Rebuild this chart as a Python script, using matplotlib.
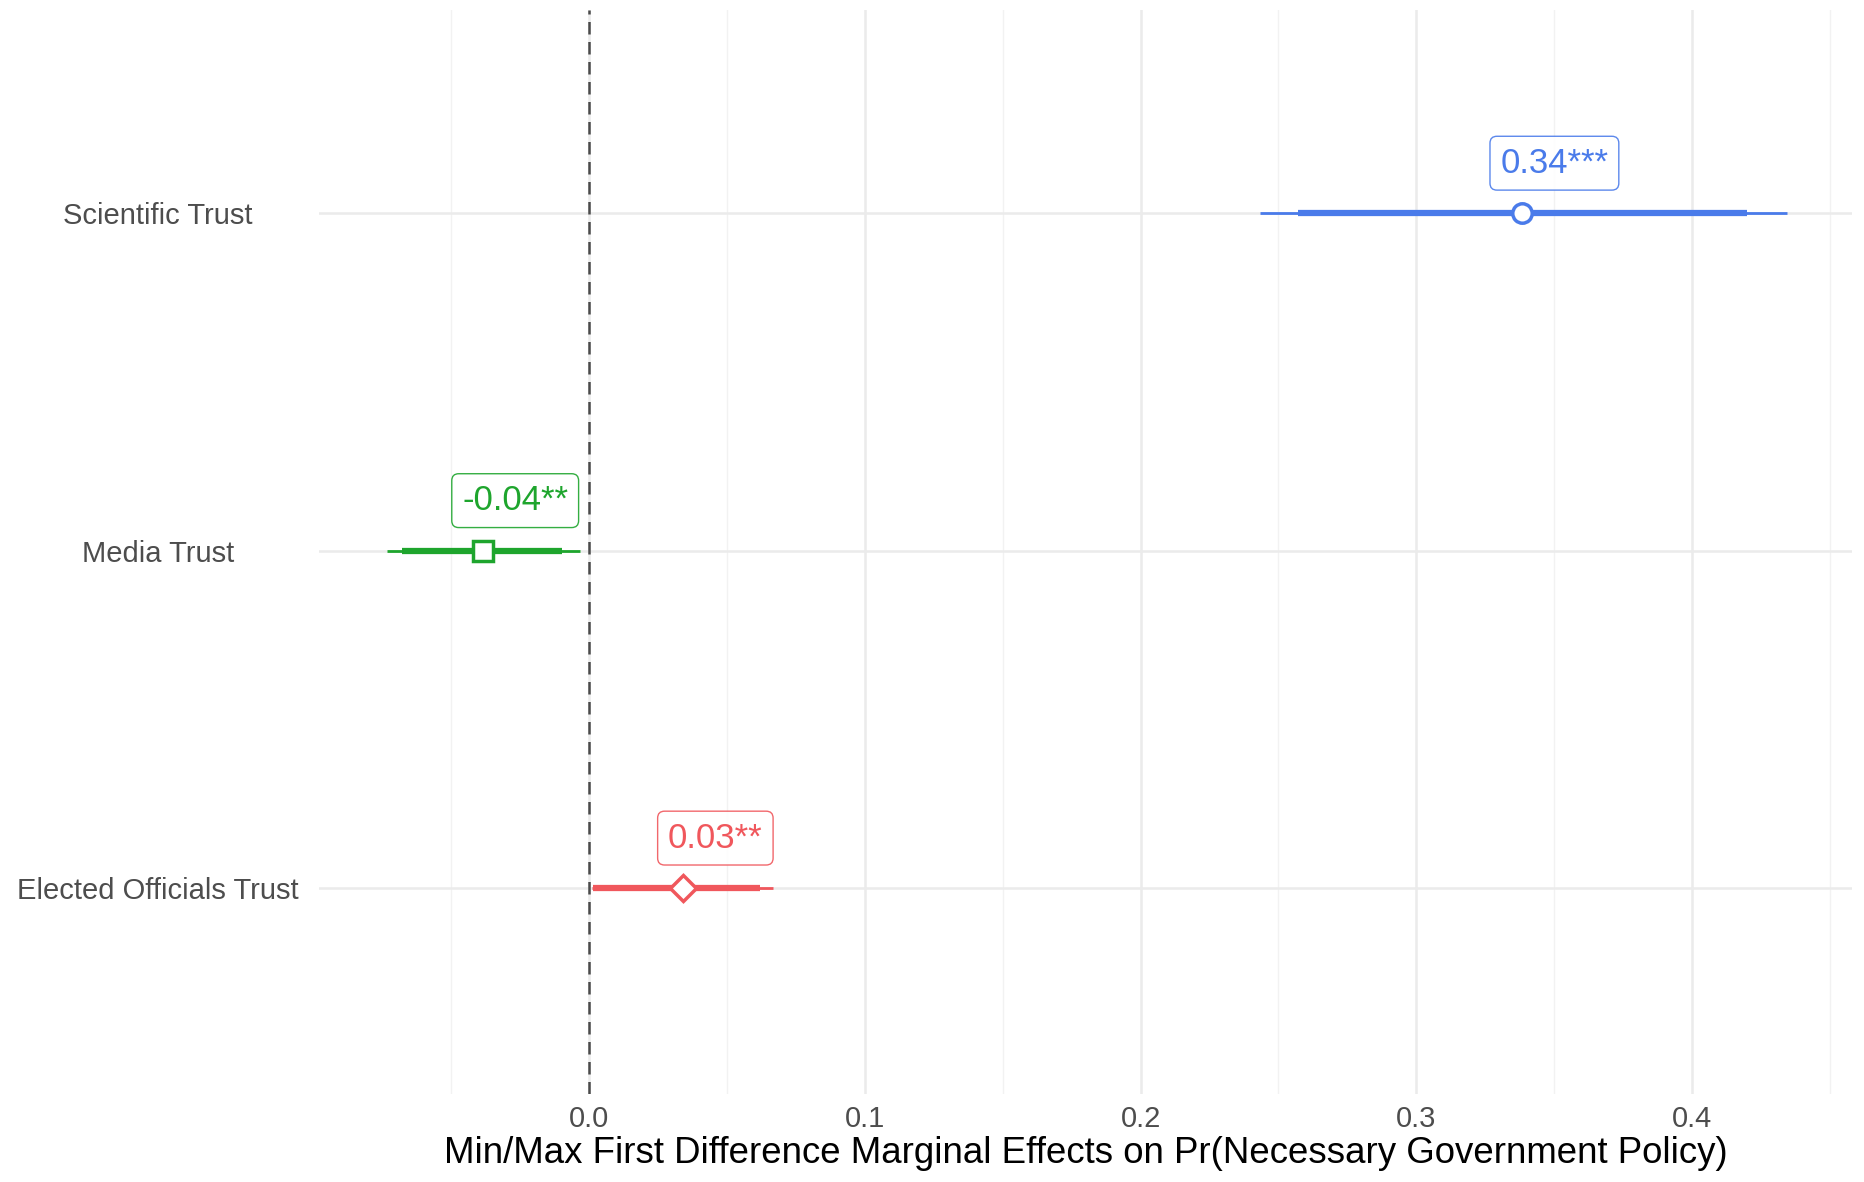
import matplotlib.pyplot as plt

plt.rcParams['font.family'] = ['Liberation Sans', 'DejaVu Sans']

# 추정치와 신뢰구간
terms = ['Elected Officials Trust', 'Media Trust', 'Scientific Trust']
estimate = [0.0342, -0.0384, 0.3385]
ci95_low = [0.0010, -0.0734, 0.2433]
ci95_high = [0.0668, -0.0033, 0.4345]
ci90_low = [0.0015, -0.0680, 0.2571]
ci90_high = [0.0620, -0.0099, 0.4199]
labels = ['0.03**', '-0.04**', '0.34***']
colors = ['#f0575c', '#1ea52d', '#4a7bea']
markers = ['D', 's', 'o']
xticks = [0.0, 0.1, 0.2, 0.3, 0.4]

fig = plt.figure(figsize=(18.65, 11.82), dpi=100)
ax = fig.add_axes([0.171, 0.0745, 0.822, 0.917])

ypos = list(range(1, len(terms) + 1))

# 그리드
ax.set_xticks(xticks)
ax.set_xticks([-0.05, 0.05, 0.15, 0.25, 0.35, 0.45], minor=True)
ax.grid(True, which='major', axis='both', color='#ebebeb', lw=1.8)
ax.grid(True, which='minor', axis='x', color='#f2f2f2', lw=1.0)
for s in ax.spines.values():
    s.set_visible(False)

ax.axvline(0, color='#4a4a4a', lw=1.8, ls=(0, (5, 3)), zorder=2.5)

for i, y in enumerate(ypos):
    c = colors[i]
    ax.plot([ci95_low[i], ci95_high[i]], [y, y], color=c, lw=2.0, zorder=3, solid_capstyle='butt')
    ax.plot([ci90_low[i], ci90_high[i]], [y, y], color=c, lw=4.5, zorder=3.5, solid_capstyle='butt')
    ms = 13 if markers[i] == 'D' else 14
    ax.plot(estimate[i], y, marker=markers[i], ms=ms, mfc='white', mec=c, mew=2.5, zorder=4)
    ax.annotate(labels[i], (estimate[i], y), xytext=(23, 36), textcoords='offset points',
                ha='center', va='center', fontsize=25, color=c, zorder=5,
                bbox=dict(boxstyle='round,pad=0.3,rounding_size=0.2', fc='white', ec=c, lw=1.0, alpha=0.9))

ax.set_xlim(-0.098, 0.458)
ax.set_ylim(0.39, 3.602)
ax.set_yticks(ypos)
ax.set_yticklabels(terms)
ax.tick_params(axis='both', which='both', length=0, labelsize=21, labelcolor='#4d4d4d')
ax.tick_params(axis='x', pad=8)
ax.tick_params(axis='y', pad=116)
for t in ax.get_yticklabels():
    t.set_horizontalalignment('center')
ax.set_xlabel('Min/Max First Difference Marginal Effects on Pr(Necessary Government Policy)',
              fontsize=26.4, color='black', labelpad=2)

plt.savefig('out.png', dpi=100)
